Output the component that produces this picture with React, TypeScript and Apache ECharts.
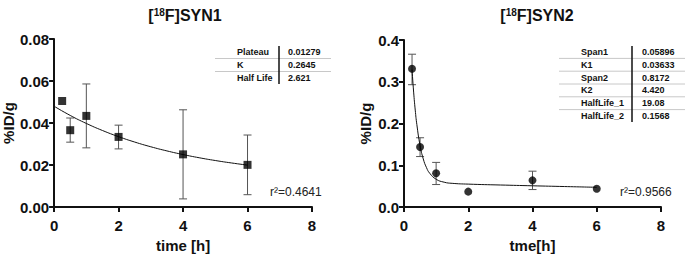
import React, { useEffect, useRef } from "react";
import * as echarts from "echarts";

// ---- Data: [18F]SYN1 ----
const syn1X = [0.25, 0.5, 1, 2, 4, 6];
const syn1Y = [0.0505, 0.0366, 0.0434, 0.0334, 0.0251, 0.0201];
const syn1ErrX = [0.5, 1, 2, 4, 6];
const syn1ErrLo = [0.0309, 0.0282, 0.0277, 0.0039, 0.0059];
const syn1ErrHi = [0.0424, 0.0586, 0.039, 0.0463, 0.0343];
const syn1FitX = [0, 0.5, 1, 1.5, 2, 2.5, 3, 3.5, 4, 4.5, 5, 5.5, 6];
const syn1FitY = [0.048, 0.04363, 0.03981, 0.03646, 0.03353, 0.03096, 0.02871, 0.02674, 0.02501, 0.02349, 0.02217, 0.02101, 0.01999];
const syn1TableKeys = ["Plateau", "K", "Half Life"];
const syn1TableVals = ["0.01279", "0.2645", "2.621"];
const syn1R2 = "0.4641";

// ---- Data: [18F]SYN2 ----
const syn2X = [0.25, 0.5, 1, 2, 4, 6];
const syn2Y = [0.331, 0.144, 0.081, 0.037, 0.064, 0.044];
const syn2ErrX = [0.25, 0.5, 1, 4];
const syn2ErrLo = [0.293, 0.121, 0.054, 0.042];
const syn2ErrHi = [0.366, 0.166, 0.107, 0.086];
const syn2FitX = [0.25, 0.3, 0.35, 0.4, 0.5, 0.6, 0.7, 0.8, 1, 1.25, 1.5, 2, 3, 4, 5, 6];
const syn2FitY = [0.3291, 0.2753, 0.2322, 0.1976, 0.1475, 0.1153, 0.0945, 0.0811, 0.0667, 0.0596, 0.0569, 0.055, 0.0529, 0.051, 0.0492, 0.0474];
const syn2TableKeys = ["Span1", "K1", "Span2", "K2", "HalfLife_1", "HalfLife_2"];
const syn2TableVals = ["0.05896", "0.03633", "0.8172", "4.420", "19.08", "0.1568"];
const syn2R2 = "0.9566";

const xTicks = { min: 0, max: 8, interval: 2 };

const FONT = "'Liberation Sans', Arial, sans-serif";

function zip(a: number[], b: number[]) {
  return a.map((v, i) => [v, b[i]]);
}

function errRender(params: any, api: any) {
  const x = api.value(0);
  const lo = api.coord([x, api.value(1)]);
  const hi = api.coord([x, api.value(2)]);
  const w = 4;
  const style = { stroke: "#555", lineWidth: 1 };
  return {
    type: "group",
    children: [
      { type: "line", shape: { x1: lo[0], y1: lo[1], x2: hi[0], y2: hi[1] }, style },
      { type: "line", shape: { x1: lo[0] - w, y1: lo[1], x2: lo[0] + w, y2: lo[1] }, style },
      { type: "line", shape: { x1: hi[0] - w, y1: hi[1], x2: hi[0] + w, y2: hi[1] }, style },
    ],
  };
}

function table(keys: string[], vals: string[], xKey: number, xVal: number, xDiv: number, lineX1: number, lineX2: number, y0: number, step: number) {
  const els: any[] = [];
  keys.forEach((k, i) => {
    const y = y0 + i * step;
    els.push({ type: "text", x: xKey, y, style: { text: k, font: `bold 9px ${FONT}`, fill: "#111", textVerticalAlign: "middle" } });
    els.push({ type: "text", x: xVal, y, style: { text: vals[i], font: `bold 9px ${FONT}`, fill: "#111", textVerticalAlign: "middle" } });
    if (i < keys.length - 1) {
      els.push({ type: "line", shape: { x1: lineX1, y1: y + step / 2, x2: lineX2, y2: y + step / 2 }, style: { stroke: "#c8c8c8", lineWidth: 1 } });
    }
  });
  els.push({ type: "line", shape: { x1: xDiv, y1: y0 - 6, x2: xDiv, y2: y0 + (keys.length - 1) * step + 6 }, style: { stroke: "#111", lineWidth: 1.5 } });
  return els;
}

const axisCommon = {
  axisLine: { show: true, onZero: false, lineStyle: { color: "#111", width: 2 } },
  axisTick: { show: true, inside: false, length: 5, lineStyle: { color: "#111", width: 2 } },
  splitLine: { show: false },
};

export default function App() {
  const ref = useRef<HTMLDivElement>(null);
  useEffect(() => {
    if (!ref.current) return;
    const chart = echarts.init(ref.current, undefined, { renderer: "svg" });
    const titleRich = {
      s: { fontSize: 10, fontWeight: "bold", fontFamily: FONT, color: "#111", padding: [0, 0, 7, 0] },
    };
    chart.setOption({
      animation: false,
      backgroundColor: "#fff",
      title: [
        {
          text: "[{s|18}F]SYN1",
          left: 180,
          top: 2,
          textAlign: "center",
          textStyle: { fontSize: 16, fontWeight: "bold", fontFamily: FONT, color: "#111", rich: titleRich },
        },
        {
          text: "[{s|18}F]SYN2",
          left: 532,
          top: 2,
          textAlign: "center",
          textStyle: { fontSize: 16, fontWeight: "bold", fontFamily: FONT, color: "#111", rich: titleRich },
        },
      ],
      grid: [
        { left: 54, right: 373, top: 39, bottom: 48 },
        { left: 404, right: 24, top: 40, bottom: 48 },
      ],
      xAxis: [0, 1].map((gi) => ({
        type: "value",
        gridIndex: gi,
        ...xTicks,
        ...axisCommon,
        name: gi === 0 ? "time [h]" : "tme[h]",
        nameLocation: "middle",
        nameGap: 30,
        nameTextStyle: { fontSize: 15, fontWeight: "bold", fontFamily: FONT, color: "#111" },
        axisLabel: { margin: 11, fontSize: 15, fontWeight: "bold", fontFamily: FONT, color: "#111" },
      })),
      yAxis: [
        {
          type: "value",
          gridIndex: 0,
          min: 0,
          max: 0.08,
          interval: 0.02,
          ...axisCommon,
          name: "%ID/g",
          nameLocation: "middle",
          nameGap: 36,
          nameTextStyle: { fontSize: 15, fontWeight: "bold", fontFamily: FONT, color: "#111" },
          axisLabel: { margin: 5, fontSize: 15, fontWeight: "bold", fontFamily: FONT, color: "#111", formatter: (v: number) => v.toFixed(2) },
        },
        {
          type: "value",
          gridIndex: 1,
          min: 0,
          max: 0.4,
          interval: 0.1,
          ...axisCommon,
          name: "%ID/g",
          nameLocation: "middle",
          nameGap: 31,
          nameTextStyle: { fontSize: 15, fontWeight: "bold", fontFamily: FONT, color: "#111" },
          axisLabel: { margin: 5, fontSize: 15, fontWeight: "bold", fontFamily: FONT, color: "#111", formatter: (v: number) => v.toFixed(1) },
        },
      ],
      series: [
        {
          type: "custom",
          xAxisIndex: 0,
          yAxisIndex: 0,
          renderItem: errRender,
          data: syn1ErrX.map((x, i) => [x, syn1ErrLo[i], syn1ErrHi[i]]),
          z: 1,
        },
        {
          type: "line",
          xAxisIndex: 0,
          yAxisIndex: 0,
          data: zip(syn1FitX, syn1FitY),
          smooth: true,
          showSymbol: false,
          lineStyle: { color: "#111", width: 1 },
          z: 2,
        },
        {
          type: "scatter",
          xAxisIndex: 0,
          yAxisIndex: 0,
          data: zip(syn1X, syn1Y),
          symbol: "rect",
          symbolSize: 8,
          itemStyle: { color: "#000" },
          z: 3,
        },
        {
          type: "custom",
          xAxisIndex: 1,
          yAxisIndex: 1,
          renderItem: errRender,
          data: syn2ErrX.map((x, i) => [x, syn2ErrLo[i], syn2ErrHi[i]]),
          z: 1,
        },
        {
          type: "line",
          xAxisIndex: 1,
          yAxisIndex: 1,
          data: zip(syn2FitX, syn2FitY),
          smooth: true,
          showSymbol: false,
          lineStyle: { color: "#111", width: 1 },
          z: 2,
        },
        {
          type: "scatter",
          xAxisIndex: 1,
          yAxisIndex: 1,
          data: zip(syn2X, syn2Y),
          symbol: "circle",
          symbolSize: 8,
          itemStyle: { color: "#000" },
          z: 3,
        },
      ],
      graphic: [
        ...table(syn1TableKeys, syn1TableVals, 237, 288, 279, 215, 331, 52, 13),
        ...table(syn2TableKeys, syn2TableVals, 581, 642, 632, 559, 685, 52, 12.8),
        { type: "text", x: 270, y: 192, style: { text: "r²=" + syn1R2, font: `12px ${FONT}`, fill: "#222", textVerticalAlign: "middle" } },
        { type: "text", x: 620, y: 192, style: { text: "r²=" + syn2R2, font: `12px ${FONT}`, fill: "#222", textVerticalAlign: "middle" } },
      ],
    });
    return () => chart.dispose();
  }, []);
  return <div ref={ref} style={{ width: 685, height: 258, position: "absolute", left: 0, top: 0 }} />;
}
